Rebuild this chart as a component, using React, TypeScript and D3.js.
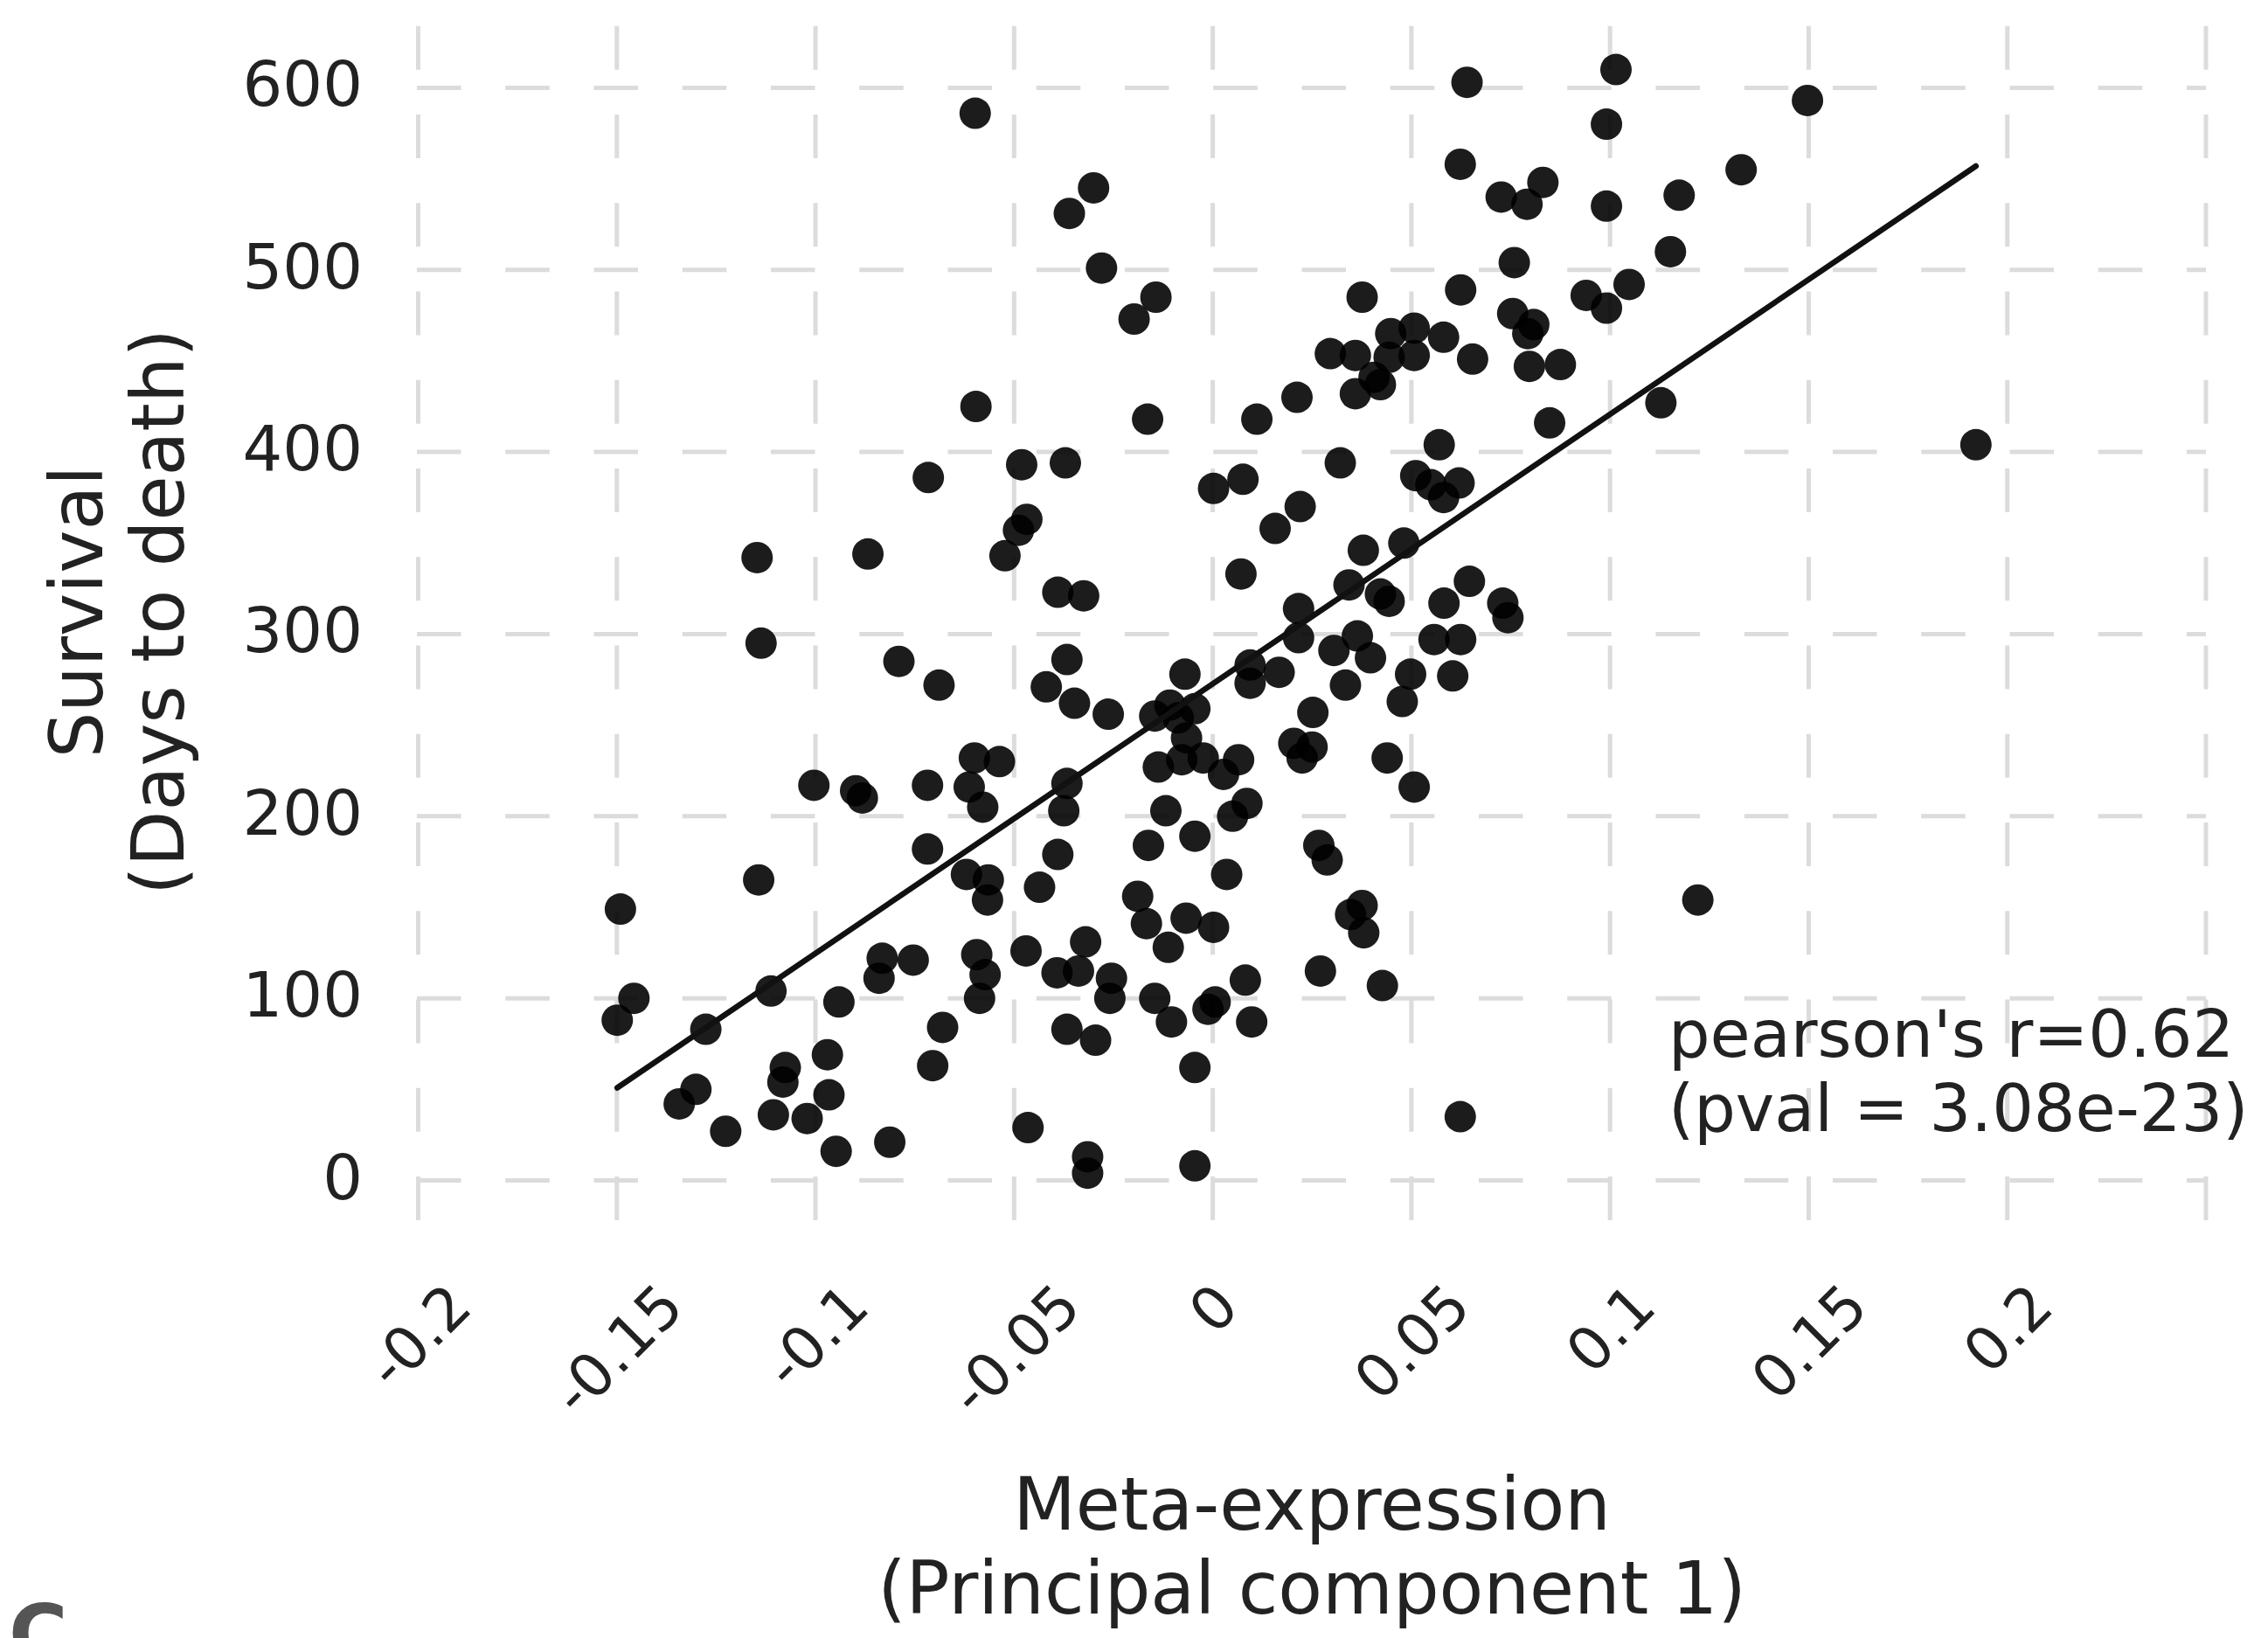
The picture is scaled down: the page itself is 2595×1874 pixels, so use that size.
import React from "react";
import * as d3 from "d3";

// ---- data ----
const pcValues = [
  -0.0598, -0.0300, -0.0361, -0.0280, -0.0596, -0.0716, -0.0481, -0.0371, -0.0468, -0.0489,
  -0.0523, -0.1147, -0.0868, -0.0390, -0.0325, -0.1137, -0.0790, -0.0367, -0.0689, -0.0419,
  -0.0348, -0.1004, -0.0899, -0.0882, -0.0718, -0.0600, -0.0537, -0.0613, -0.0579, -0.0367,
  -0.0375, -0.0718, -0.0620, -0.0565, -0.0567, -0.0436, -0.0390, -0.1143, -0.1491, -0.1457,
  -0.1499, -0.1276, -0.1112, -0.0941, -0.0832, -0.0840, -0.0754, -0.0594, -0.0573, -0.0587,
  -0.0470, -0.0392, -0.0338, -0.0320, -0.0367, -0.0295, -0.0680, -0.0705, -0.0970, -0.1076,
  -0.1082, -0.0966, -0.1301, -0.1343, -0.1226, -0.1106, -0.1021, -0.0948, -0.0813, -0.0465,
  -0.0315, -0.0315, -0.0263, -0.0255, -0.0259, -0.0146, -0.0108, -0.0045, -0.0087, -0.0070,
  -0.0066, -0.0137, -0.0078, -0.0024, 0.0065, 0.0027, 0.0086, 0.0050, -0.0118, -0.0162,
  -0.0045, 0.0035, -0.0189, -0.0167, -0.0067, 0.0002, -0.0112, -0.0146, -0.0104, 0.0006,
  -0.0012, 0.0082, 0.0098, -0.0045, -0.0045, 0.0204, 0.0250, 0.0225, 0.0252, 0.0216,
  0.0305, 0.0364, 0.0397, 0.0334, 0.0439, 0.0507, 0.0498, 0.0477, 0.0557, 0.0624,
  0.0604, 0.0743, 0.0267, 0.0288, 0.0376, 0.0347, 0.0380, 0.0271, 0.0427, 0.0623,
  0.0094, 0.0094, 0.0167, 0.0640, 0.1015, 0.0991, 0.0623, 0.0726, 0.0831, 0.0791,
  0.0991, -0.0143, -0.0198, 0.0759, 0.0624, 0.0376, 0.0940, 0.0991, 0.1048, 0.0755,
  0.0808, 0.0793, 0.0797, 0.0875, 0.0848, 0.0296, 0.0359, 0.0448, 0.0507, 0.0507,
  0.0444, 0.0581, 0.0654, 0.0406, 0.0422, 0.0359, 0.0212, 0.0111, -0.0164, 0.0570,
  0.0321, 0.0076, 0.0002, 0.0511, 0.0549, 0.0620, 0.0581, 0.0220, 0.0157, 0.0379,
  0.0481, 0.0071, 0.0646, 0.0730, 0.0582, 0.0343, 0.0422, 0.0444, 0.0216, 0.1497,
  0.1330, 0.1174, 0.1152, 0.1128, 0.1921, 0.1221,
];

const survivalDays = [
  586, 545, 531, 501, 425, 386, 393, 394, 363, 357,
  343, 342, 344, 323, 321, 295, 285, 286, 272, 271,
  262, 217, 214, 210, 217, 232, 230, 216, 205, 218,
  203, 182, 168, 165, 154, 161, 179, 165, 149, 100,
  88, 83, 104, 98, 122, 111, 121, 124, 113, 100,
  126, 114, 115, 131, 83, 77, 84, 63, 69, 62,
  54, 47, 50, 42, 27, 36, 34, 16, 21, 29,
  13, 4, 256, 111, 100, 255, 261, 259, 254, 278,
  243, 227, 231, 232, 231, 223, 207, 200, 203, 184,
  189, 168, 156, 141, 144, 139, 128, 100, 87, 98,
  94, 110, 87, 62, 8, 240, 238, 232, 257, 298,
  291, 299, 287, 272, 232, 216, 278, 263, 297, 297,
  277, 309, 184, 176, 151, 146, 136, 115, 107, 35,
  283, 273, 279, 603, 610, 580, 558, 540, 548, 536,
  535, 485, 473, 504, 489, 485, 486, 479, 492, 476,
  470, 465, 447, 448, 416, 454, 453, 465, 468, 453,
  452, 463, 451, 441, 437, 432, 430, 418, 418, 404,
  394, 385, 380, 387, 382, 383, 375, 370, 358, 346,
  350, 333, 329, 317, 317, 327, 322, 318, 314, 593,
  555, 541, 510, 427, 404, 154,
];

const xTickValues = [-0.2, -0.15, -0.1, -0.05, 0, 0.05, 0.1, 0.15, 0.2];
const xTickLabels = ["-0.2", "-0.15", "-0.1", "-0.05", "0", "0.05", "0.1", "0.15", "0.2"];
const xGridValues = [-0.2, -0.15, -0.1, -0.05, 0, 0.05, 0.1, 0.15, 0.2, 0.25];
const yTickValues = [0, 100, 200, 300, 400, 500, 600];
const yTickLabels = ["0", "100", "200", "300", "400", "500", "600"];

// regression line
const fitIntercept = 272.7;
const fitSlope = 1480;

const statLines = ["pearson's r=0.62", "(pval = 3.08e-23)"];
const xTitleLines = ["Meta-expression", "(Principal component 1)"];
const yTitleLines = ["Survival", "(Days to death)"];
const panelTag = "C";

// ---- layout ----
const W = 2595;
const H = 1874;
const panel = { left: 477, right: 2524, top: 26.5, bottom: 1396 };
const FONT = "'DejaVu Sans', sans-serif";
const TEXT = "#222222";
const GRID = "#dcdcdc";

const charEm: Record<string, number> = { "-": 0.361, ".": 0.318 };
const emWidth = (s: string) =>
  s.split("").reduce((a, c) => a + (charEm[c] ?? 0.636), 0);

export default function App() {
  const x = d3.scaleLinear().domain([-0.2, 0.25]).range([478.5, 2524]);
  const y = d3.scaleLinear().domain([0, 600]).range([1350.5, 100.4]);

  const [xmin, xmax] = d3.extent(pcValues) as [number, number];
  const fitLine = d3
    .line<number>()
    .x((v) => x(v))
    .y((v) => y(fitIntercept + fitSlope * v))([xmin, xmax]);

  const xLabelSize = 68;
  const xLabelTop = 1463;

  return (
    <svg
      width={W}
      height={H}
      viewBox={`0 0 ${W} ${H}`}
      style={{ position: "absolute", left: 0, top: 0, background: "#ffffff" }}
      fontFamily={FONT}
    >
      <rect x={0} y={0} width={W} height={H} fill="#ffffff" />

      {/* grid */}
      <g stroke={GRID} strokeWidth={5} fill="none">
        {yTickValues.map((v) => (
          <line
            key={"h" + v}
            x1={panel.left}
            x2={panel.right}
            y1={y(v)}
            y2={y(v)}
            strokeDasharray="50.5 50.75"
          />
        ))}
        {xGridValues.map((v) => (
          <line
            key={"v" + v}
            x1={x(v)}
            x2={x(v)}
            y1={panel.bottom}
            y2={panel.top}
            strokeDasharray="50 51.25"
          />
        ))}
      </g>

      {/* points */}
      <g fill="#000000" fillOpacity={0.89}>
        {pcValues.map((v, i) => (
          <circle key={i} cx={x(v)} cy={y(survivalDays[i])} r={18} />
        ))}
      </g>

      {/* regression line */}
      <path d={fitLine ?? ""} stroke="#111111" strokeWidth={6.5} fill="none" strokeLinecap="round" />

      {/* y tick labels */}
      <g fill={TEXT} fontSize={72} textAnchor="end">
        {yTickValues.map((v, i) => (
          <text key={"yl" + v} x={415} y={y(v) + 21}>
            {yTickLabels[i]}
          </text>
        ))}
      </g>

      {/* x tick labels, rotated 45 degrees */}
      <g fill={TEXT} fontSize={xLabelSize} textAnchor="middle">
        {xTickValues.map((v, i) => {
          const lab = xTickLabels[i];
          const cy = xLabelTop + 0.3536 * (emWidth(lab) + 0.75) * xLabelSize;
          return (
            <text
              key={"xl" + v}
              transform={`translate(${x(v)},${cy}) rotate(-45)`}
              dy="0.36em"
            >
              {lab}
            </text>
          );
        })}
      </g>

      {/* axis titles */}
      <g fill={TEXT} fontSize={83} textAnchor="middle">
        <text x={1501} y={1750}>{xTitleLines[0]}</text>
        <text x={1501} y={1846}>{xTitleLines[1]}</text>
        <text transform="translate(117,700) rotate(-90)">{yTitleLines[0]}</text>
        <text transform="translate(210,700) rotate(-90)">{yTitleLines[1]}</text>
      </g>

      {/* correlation annotation */}
      <g fill={TEXT} fontSize={75}>
        <text x={1909} y={1209}>{statLines[0]}</text>
        <text x={1909} y={1294}>{statLines[1]}</text>
      </g>

      {/* figure panel tag, cut off at the bottom as in the reference */}
      <text x={10} y={1902} fontSize={92} fontWeight="bold" fill="#555555">
        {panelTag}
      </text>
    </svg>
  );
}
